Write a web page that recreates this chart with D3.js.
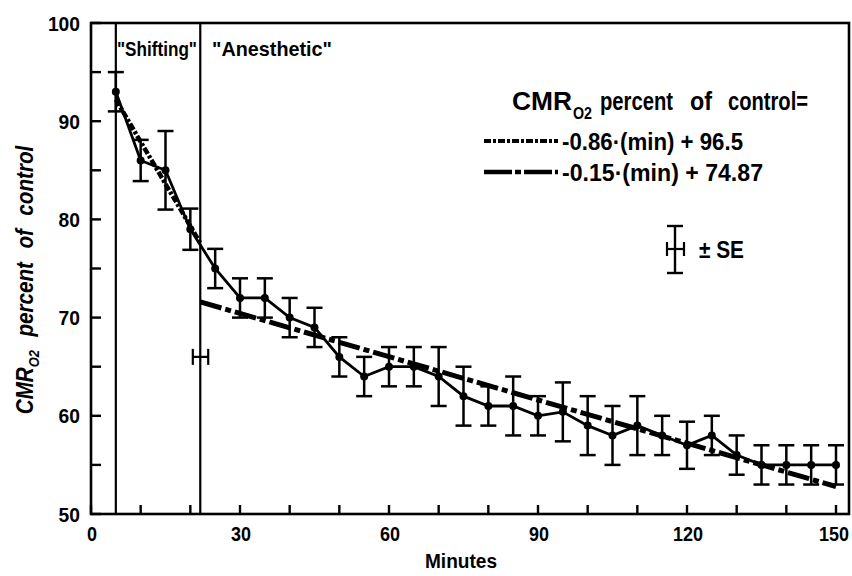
<!DOCTYPE html>
<html>
<head>
<meta charset="utf-8">
<script src="https://cdn.jsdelivr.net/npm/d3@7"></script>
<style>
  html, body { margin: 0; padding: 0; background: #fff; }
  svg { display: block; }
  text { fill: #000; font-family: "Liberation Sans", Arial, sans-serif; font-weight: bold; }
  .tick-label { font-size: 20px; }
</style>
</head>
<body>
<script>
// ---------- data ----------
const minutes = [5, 10, 15, 20, 25, 30, 35, 40, 45, 50, 55, 60, 65, 70, 75, 80, 85, 90, 95, 100, 105, 110, 115, 120, 125, 130, 135, 140, 145, 150];
const cmrPercent = [93, 86, 85, 79, 75, 72, 72, 70, 69, 66, 64, 65, 65, 64, 62, 61, 61, 60, 60.4, 59, 58, 59, 58, 57, 58, 56, 55, 55, 55, 55];
const cmrSE = [2, 2.1, 4, 2.1, 2, 2, 2, 2, 2, 2, 2, 2, 2, 3, 3, 2, 3, 2, 3, 3, 3, 3, 2, 2.4, 2, 2, 2, 2, 2, 2];

const phaseBoundaries = [5, 22];
const phaseLabels = ['"Shifting"', '"Anesthetic"'];

// regression lines (endpoints)
const shiftingFit = { label: "-0.86\u00b7(min) + 96.5", t: [5, 22], v: [92.2, 77.6] };
const anestheticFit = { label: "-0.15\u00b7(min) + 74.87", t: [22, 150], v: [71.6, 52.8] };

// breakpoint time ± SE (horizontal bar)
const breakpoint = { t: 22.05, v: 66, se: 1.55 };

const xTicksMajor = [0, 30, 60, 90, 120, 150];
const xTicksMinor = d3.range(0, 151, 10);
const yTicks = [50, 60, 70, 80, 90, 100];
const yTicksMinor = d3.range(50, 101, 5);

// ---------- layout ----------
const W = 852, H = 576;
const svg = d3.select("body").append("svg").attr("width", W).attr("height", H);

const x = d3.scaleLinear().domain([0, 150]).range([91, 836]);
const y = d3.scaleLinear().domain([50, 100]).range([514, 23]);
const frameRight = 849;

const g = svg.append("g");

// frame
g.append("rect")
  .attr("x", x(0)).attr("y", y(100))
  .attr("width", frameRight - x(0)).attr("height", y(50) - y(100))
  .attr("fill", "none").attr("stroke", "#000").attr("stroke-width", 2.6);

// y ticks (inward)
g.selectAll(".ytick").data(yTicksMinor).join("line")
  .attr("x1", x(0)).attr("x2", x(0) + 10)
  .attr("y1", d => y(d)).attr("y2", d => y(d))
  .attr("stroke", "#000").attr("stroke-width", 2.4);
g.selectAll(".ylab").data(yTicks).join("text")
  .attr("class", "tick-label")
  .attr("x", 80).attr("y", d => y(d) + 7.5)
  .attr("text-anchor", "end")
  .attr("textLength", d => String(d).length * 10.7)
  .attr("lengthAdjust", "spacingAndGlyphs")
  .text(d => d);

// x ticks (inward)
g.selectAll(".xtick").data(xTicksMinor).join("line")
  .attr("x1", d => x(d)).attr("x2", d => x(d))
  .attr("y1", y(50)).attr("y2", y(50) - 9)
  .attr("stroke", "#000").attr("stroke-width", 2.4);
g.selectAll(".xlab").data(xTicksMajor).join("text")
  .attr("class", "tick-label")
  .attr("x", d => Math.min(x(d) + 1, 834)).attr("y", 541)
  .attr("text-anchor", "middle")
  .attr("textLength", d => String(d).length * 10)
  .attr("lengthAdjust", "spacingAndGlyphs")
  .text(d => d);

// axis titles
svg.append("text").style("font-size", "20px")
  .attr("x", 461).attr("y", 568).attr("text-anchor", "middle")
  .attr("textLength", 72).attr("lengthAdjust", "spacingAndGlyphs")
  .text("Minutes");

const yt = svg.append("text")
  .attr("transform", "translate(33,280) rotate(-90) scale(0.86,1)")
  .attr("text-anchor", "middle")
  .style("font-size", "24px").style("font-style", "italic")
  .style("word-spacing", "9px");
yt.append("tspan").text("CMR");
yt.append("tspan").attr("dy", 6).style("font-size", "15px").text("O2");
yt.append("tspan").attr("dy", -6).text(" percent of control");

// phase boundaries
g.selectAll(".phase").data(phaseBoundaries).join("line")
  .attr("x1", d => x(d)).attr("x2", d => x(d))
  .attr("y1", y(100)).attr("y2", y(50))
  .attr("stroke", "#000").attr("stroke-width", 2.2);
svg.append("text").style("font-size", "21px")
  .attr("x", 117).attr("y", 56)
  .attr("textLength", 80).attr("lengthAdjust", "spacingAndGlyphs")
  .text(phaseLabels[0]);
svg.append("text").style("font-size", "21px")
  .attr("x", 212).attr("y", 56)
  .attr("textLength", 120).attr("lengthAdjust", "spacingAndGlyphs")
  .text(phaseLabels[1]);

// regression lines
const fitLine = d3.line().x(d => x(d[0])).y(d => y(d[1]));
g.append("path")
  .attr("d", fitLine(d3.zip(shiftingFit.t, shiftingFit.v)))
  .attr("fill", "none").attr("stroke", "#000").attr("stroke-width", 4.5)
  .attr("stroke-dasharray", "7,2,3,2");
g.append("path")
  .attr("d", fitLine(d3.zip(anestheticFit.t, anestheticFit.v)))
  .attr("fill", "none").attr("stroke", "#000").attr("stroke-width", 5)
  .attr("stroke-dasharray", "22,4,6,4");

// data
const pts = minutes.map((t, i) => ({ t, v: cmrPercent[i], se: cmrSE[i] }));

const eb = g.selectAll(".eb").data(pts).join("g");
eb.append("line")
  .attr("x1", d => x(d.t)).attr("x2", d => x(d.t))
  .attr("y1", d => y(d.v + d.se)).attr("y2", d => y(d.v - d.se))
  .attr("stroke", "#000").attr("stroke-width", 2.5);
eb.append("line")
  .attr("x1", d => x(d.t) - 8).attr("x2", d => x(d.t) + 8)
  .attr("y1", d => y(d.v + d.se)).attr("y2", d => y(d.v + d.se))
  .attr("stroke", "#000").attr("stroke-width", 2.5);
eb.append("line")
  .attr("x1", d => x(d.t) - 8).attr("x2", d => x(d.t) + 8)
  .attr("y1", d => y(d.v - d.se)).attr("y2", d => y(d.v - d.se))
  .attr("stroke", "#000").attr("stroke-width", 2.5);

g.append("path")
  .attr("d", d3.line().x(d => x(d.t)).y(d => y(d.v))(pts))
  .attr("fill", "none").attr("stroke", "#000").attr("stroke-width", 2.8);
g.selectAll(".pt").data(pts).join("circle")
  .attr("cx", d => x(d.t)).attr("cy", d => y(d.v)).attr("r", 4).attr("fill", "#000");

// breakpoint horizontal SE bar
const bp = g.append("g");
bp.append("line")
  .attr("x1", x(breakpoint.t - breakpoint.se)).attr("x2", x(breakpoint.t + breakpoint.se))
  .attr("y1", y(breakpoint.v)).attr("y2", y(breakpoint.v))
  .attr("stroke", "#000").attr("stroke-width", 2.2);
[breakpoint.t - breakpoint.se, breakpoint.t + breakpoint.se].forEach(t => {
  bp.append("line")
    .attr("x1", x(t)).attr("x2", x(t))
    .attr("y1", y(breakpoint.v) - 8).attr("y2", y(breakpoint.v) + 8)
    .attr("stroke", "#000").attr("stroke-width", 2.2);
});

// legend
const lg = svg.append("g");
const titleParts = [
  { s: "CMR", x: 512, w: 60, size: 25, dy: 0 },
  { s: "O2", x: 573, w: 19, size: 16, dy: 9 },
  { s: "percent", x: 600, w: 73, size: 25, dy: 0 },
  { s: "of", x: 690, w: 22, size: 25, dy: 0 },
  { s: "control=", x: 728, w: 80, size: 25, dy: 0 }
];
lg.selectAll(".tp").data(titleParts).join("text")
  .attr("x", d => d.x).attr("y", d => 110 + d.dy)
  .style("font-size", d => d.size + "px")
  .attr("textLength", d => d.w).attr("lengthAdjust", "spacingAndGlyphs")
  .text(d => d.s);

lg.append("line").attr("x1", 484).attr("x2", 558).attr("y1", 141).attr("y2", 141)
  .attr("stroke", "#000").attr("stroke-width", 4).attr("stroke-dasharray", "7,2,3,2");
lg.append("text").style("font-size", "24px")
  .attr("x", 562).attr("y", 150)
  .attr("textLength", 181).attr("lengthAdjust", "spacingAndGlyphs")
  .text(shiftingFit.label);
lg.append("line").attr("x1", 484).attr("x2", 558).attr("y1", 172).attr("y2", 172)
  .attr("stroke", "#000").attr("stroke-width", 4.5).attr("stroke-dasharray", "28,3,6,3");
lg.append("text").style("font-size", "24px")
  .attr("x", 562).attr("y", 181)
  .attr("textLength", 201).attr("lengthAdjust", "spacingAndGlyphs")
  .text(anestheticFit.label);

// ± SE symbol
const se = lg.append("g").attr("stroke", "#000");
se.append("line").attr("x1", 675).attr("x2", 675).attr("y1", 226).attr("y2", 273).attr("stroke-width", 2.4);
se.append("line").attr("x1", 667).attr("x2", 683).attr("y1", 226).attr("y2", 226).attr("stroke-width", 2.4);
se.append("line").attr("x1", 667).attr("x2", 683).attr("y1", 273).attr("y2", 273).attr("stroke-width", 2.4);
se.append("line").attr("x1", 667).attr("x2", 684).attr("y1", 249).attr("y2", 249).attr("stroke-width", 2.2);
se.append("line").attr("x1", 667).attr("x2", 667).attr("y1", 242).attr("y2", 256).attr("stroke-width", 2.2);
se.append("line").attr("x1", 684).attr("x2", 684).attr("y1", 242).attr("y2", 256).attr("stroke-width", 2.2);
lg.append("text").style("font-size", "24px")
  .attr("x", 699).attr("y", 258)
  .attr("textLength", 45).attr("lengthAdjust", "spacingAndGlyphs")
  .text("\u00b1 SE");
</script>
</body>
</html>
